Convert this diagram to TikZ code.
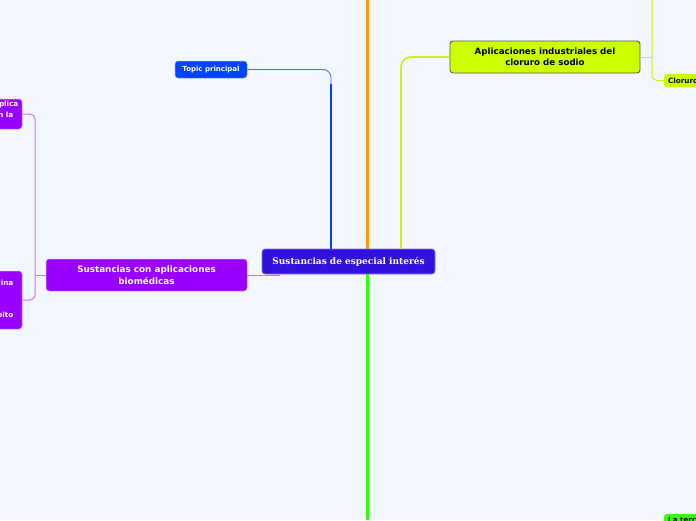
\documentclass[tikz,border=0pt]{standalone}
\usepackage{fontspec}
\setmainfont{DejaVu Sans}
\newfontfamily\seriffont{DejaVu Serif}
\usetikzlibrary{calc}
\definecolor{bg}{HTML}{F2F6FE}
\definecolor{centralfill}{HTML}{3311DD}
\definecolor{topicfill}{HTML}{0044FF}
\definecolor{topicline}{HTML}{4477FF}
\definecolor{indfill}{HTML}{CCFF00}
\definecolor{indline}{HTML}{CCF020}
\definecolor{biofill}{HTML}{9900FF}
\definecolor{bioline}{HTML}{C27AFF}
\definecolor{orangeline}{HTML}{FF9911}
\definecolor{greenline}{HTML}{33FF00}
\tikzset{
  mapnode/.style={rounded corners=3pt, inner sep=0pt, align=center, font=\bfseries},
  centralbox/.style={mapnode, fill=centralfill, draw=centralfill!60!white, line width=0.6pt,
     text=white, minimum width=173pt, minimum height=25pt, font=\seriffont\bfseries\fontsize{9.0}{11}\selectfont},
  topicbox/.style={mapnode, fill=topicfill, draw=gray!70, line width=0.5pt, text=white,
     minimum width=72pt, minimum height=17pt, font=\bfseries\fontsize{7}{8}\selectfont},
  indbox/.style={mapnode, fill=indfill, draw=black!65, line width=0.9pt, text=black,
     minimum width=190pt, minimum height=32pt, font=\bfseries\fontsize{8.7}{11.5}\selectfont},
  biobox/.style={mapnode, fill=biofill, draw=bioline!70, line width=0.5pt, text=white,
     minimum width=201pt, minimum height=32pt, font=\bfseries\fontsize{8.8}{11.5}\selectfont},
  subbio/.style={mapnode, fill=biofill, draw=bioline!70, line width=0.5pt, minimum width=62pt},
  subind/.style={mapnode, fill=indfill, minimum width=70pt, minimum height=13pt},
  subgreen/.style={mapnode, fill=greenline, minimum width=70pt, minimum height=14pt},
  frag/.style={inner sep=0pt, font=\bfseries\fontsize{7.2}{8}\selectfont},
}
\begin{document}
\begin{tikzpicture}[x=1pt,y=-1pt]
\fill[bg] (0,0) rectangle (696,520);
\useasboundingbox (0,0) rectangle (696,520);
\clip (0,0) rectangle (696,520);

\coordinate (otop) at (367,0);
\coordinate (gbot) at (367,520);
\coordinate (bx) at (331,0);
\coordinate (yx) at (401,0);
\coordinate (ytop) at (652,0);
\coordinate (lx) at (35,200);
\coordinate (pend) at (280,275);

% connectors (drawn first, nodes cover them)
\draw[bioline, line width=1pt] (146,275) -- (pend);
\draw[orangeline, line width=3pt] (367,255) -- (otop);
\draw[greenline, line width=3pt] (367,270) -- (gbot);

\node[centralbox] (c) at (348.5,261.5) {Sustancias de especial interés};
\node[topicbox] (t) at (211,69.5) {Topic principal};
\node[indbox] (a) at (545,57) {Aplicaciones industriales del\\cloruro de sodio};
\node[biobox] (b) at (146.5,275) {Sustancias con aplicaciones\\biomédicas};
\node[subbio, minimum height=30pt] (l1) at (-9,114) {};
\node[subbio, minimum height=58pt] (l2) at (-9,300) {};
\node[subind] (cl) at (699,80.5) {};
\node[subgreen] (gn) at (699,521) {};

% text fragments visible at the picture edges
\node[frag, text=white, anchor=east] (f1) at (18.5,105) {plica};
\node[frag, text=white, anchor=east] (f2) at (13.5,115) {n la};
\node[frag, text=white, anchor=east] (f3) at (13.5,283) {dina};
\node[frag, text=white, anchor=east] (f4) at (13.5,315) {olto};
\node[frag, text=black, anchor=west] (f5) at (668,80.5) {Cloruro};
\node[frag, text=black, anchor=west] (f6) at (668,519.5) {La terc};

% blue connector
\draw[topicline, line width=0.9pt, rounded corners=8pt] (t.east) -| ($(c.north -| bx)+(0,-160)$);
\draw[topicfill, line width=2.4pt] ($(c.north -| bx)+(0,-165)$) -- (c.north -| bx);

% yellow connectors
\draw[indline, line width=1.8pt, rounded corners=10pt] (c.north -| yx) |- (a.west);
\draw[indline, line width=1pt] (a.east) -- (a.east -| ytop);
\draw[indline, line width=1pt, rounded corners=5pt] (ytop) |- (cl.west);

% purple connectors
\draw[bioline, line width=1pt] (b.west) -- (b.west -| lx);
\draw[bioline, line width=1pt, rounded corners=5pt] (l1.east) -| (lx) |- (l2.east);
\end{tikzpicture}
\end{document}
